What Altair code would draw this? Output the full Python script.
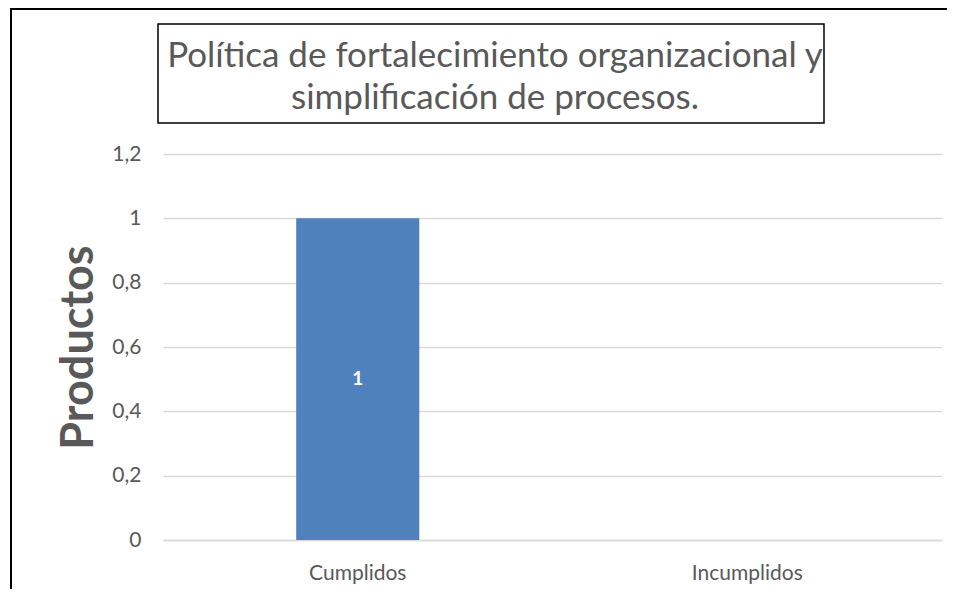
import altair as alt
import pandas as pd

categories = ["Cumplidos", "Incumplidos"]
values = [1, None]
labels = ["1", ""]
title_lines = ["Política de fortalecimiento organizacional y", "simplificación de procesos."]
y_ticks = [0, 0.2, 0.4, 0.6, 0.8, 1.0, 1.2]

df = pd.DataFrame({"cat": categories, "val": values, "lbl": labels})
df["mid"] = df["val"] / 2
FONT = "Lato"
GRAY = "#595959"

W, H = 779, 386
PAD_L, PAD_T, PAD_R, PAD_B = 155, 146, 5, 49

x_enc = alt.X("cat:N", sort=categories, title=None,
              scale=alt.Scale(paddingInner=0.684, paddingOuter=0.342),
              axis=alt.Axis(labelAngle=0, labelFontSize=21, labelColor=GRAY, labelFont=FONT,
                            labelPadding=22, ticks=False, domain=True, domainColor="#d9d9d9",
                            domainWidth=1.5, grid=False))
y_enc = alt.Y("val:Q", title="Productos",
              scale=alt.Scale(domain=[0, 1.2], nice=False),
              axis=alt.Axis(values=y_ticks, labelExpr="replace(format(datum.value, '.1~f'), '.', ',')",
                            labelFontSize=21, labelColor=GRAY, labelFont=FONT, labelPadding=22,
                            ticks=False, domain=False, gridColor="#d9d9d9", gridWidth=1.3,
                            titleFontSize=45, titleFont=FONT, titleFontWeight="bold", titleColor=GRAY,
                            titleX=-71, titleY=H / 2, titleAngle=-90, titleAlign="center",
                            titleBaseline="alphabetic"))

bars = alt.Chart(df).mark_bar(color="#4f81bd").encode(x=x_enc, y=y_enc)
text = alt.Chart(df).transform_filter("datum.val != null").mark_text(
    color="white", fontWeight="bold", fontSize=19, font=FONT, baseline="middle").encode(
    x=alt.X("cat:N", sort=categories),
    y=alt.Y("mid:Q"),
    text="lbl:N",
)

box = alt.Chart(pd.DataFrame({"a": [0]})).mark_rect(fill="white", stroke="black", strokeWidth=1.5).encode(
    x=alt.value(-5), x2=alt.value(661), y=alt.value(-130), y2=alt.value(-31))

t1 = alt.Chart(pd.DataFrame({"t": [title_lines[0]]})).mark_text(
    fontSize=35, font=FONT, color=GRAY, baseline="middle", align="center").encode(
    x=alt.value(332), y=alt.value(-98), text="t:N")
t2 = alt.Chart(pd.DataFrame({"t": [title_lines[1]]})).mark_text(
    fontSize=35, font=FONT, color=GRAY, baseline="middle", align="center").encode(
    x=alt.value(332), y=alt.value(-56), text="t:N")

border_left = alt.Chart(pd.DataFrame({"a": [0]})).mark_rule(color="black", strokeWidth=2).encode(
    x=alt.value(-152), y=alt.value(-146), y2=alt.value(H + PAD_B))
border_top = alt.Chart(pd.DataFrame({"a": [0]})).mark_rule(color="black", strokeWidth=2).encode(
    x=alt.value(-152), x2=alt.value(W + PAD_R), y=alt.value(-145))

chart = alt.layer(bars, text, box, t1, t2, border_left, border_top).properties(
    width=W, height=H,
    autosize=alt.AutoSizeParams(type="none"),
    padding={"left": PAD_L, "top": PAD_T, "right": PAD_R, "bottom": PAD_B},
    background="white",
).configure_view(stroke=None)

chart.save("out.html", embed_options={"renderer": "svg", "actions": False})
